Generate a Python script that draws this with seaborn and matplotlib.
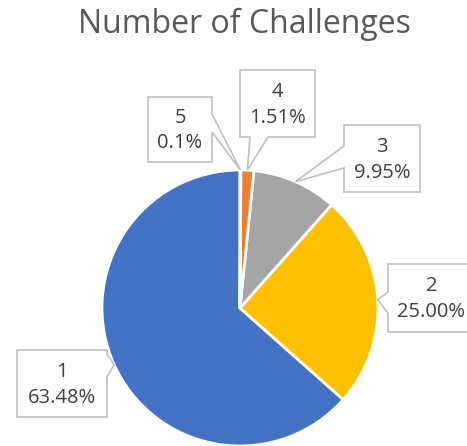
import numpy as np
import matplotlib
matplotlib.use("Agg")
import matplotlib.pyplot as plt
import seaborn as sns
from matplotlib.patches import Polygon

categories = ["1", "2", "3", "4", "5"]
values = [63.48, 25.00, 9.95, 1.51, 0.1]
value_labels = ["63.48%", "25.00%", "9.95%", "1.51%", "0.1%"]
title = "Number of Challenges"

sns.set_theme(style="white")
plt.rcParams['font.family'] = ['Open Sans', 'DejaVu Sans']
colors = ["#4472C4", "#FFC000", "#A5A5A5", "#ED7D31", "#5B9BD5"]

W, H = 467, 446
fig = plt.figure(figsize=(W / 100, H / 100), dpi=100)
ax = fig.add_axes([0, 0, 1, 1])

R = 138
C = (240, H - 308)
wedges, _ = ax.pie(values, colors=colors, startangle=90, counterclock=True,
                   radius=R, center=C,
                   wedgeprops=dict(edgecolor="white", linewidth=2))
ax.set_xlim(0, W)
ax.set_ylim(0, H)
ax.set_aspect("equal", adjustable="box")
ax.axis("off")

# label boxes in pixel coords (x0, y0top, x1, y1bottom), side of pointer, base span
boxes = {
    0: ((17, 350, 107, 417), "right", (354, 377)),
    1: ((388, 264, 475, 332), "left", (292, 313)),
    2: ((344, 125, 420, 192), "left", (146, 168)),
    3: ((240, 70, 315, 137), "bottom", (250, 268)),
    4: ((148, 97, 212, 162), "right", (114, 132)),
}

def tip_point(w, r_frac=1.0):
    ang = np.deg2rad((w.theta1 + w.theta2) / 2)
    return (w.center[0] + w.r * r_frac * np.cos(ang),
            w.center[1] + w.r * r_frac * np.sin(ang))

for i, w in enumerate(wedges):
    (x0, t, x1, b), side, (s0, s1) = boxes[i]
    tx, ty = tip_point(w)
    tyy = H - ty  # pixel y
    if side == "right":
        pts = [(x0, t), (x1, t), (x1, s0), (tx, tyy), (x1, s1), (x1, b), (x0, b)]
    elif side == "left":
        pts = [(x0, t), (x1, t), (x1, b), (x0, b), (x0, s1), (tx, tyy), (x0, s0)]
    else:  # bottom
        pts = [(x0, t), (x1, t), (x1, b), (s1, b), (tx, tyy), (s0, b), (x0, b)]
    pts = [(px, H - py) for px, py in pts]
    ax.add_patch(Polygon(pts, closed=True, facecolor="white",
                         edgecolor="#BFBFBF", linewidth=1.2, zorder=5))
    cx = (x0 + x1) / 2
    ax.text(cx, H - (t + (b - t) * 0.33), categories[i], ha="center", va="center",
            fontsize=14.5, color="#404040", zorder=6)
    ax.text(cx, H - (t + (b - t) * 0.71), value_labels[i], ha="center", va="center",
            fontsize=14.5, color="#404040", zorder=6)

ax.text(244, H - 24, title, ha="center", va="center", fontsize=23,
        color="#595959")

fig.savefig("out.png", dpi=100)
